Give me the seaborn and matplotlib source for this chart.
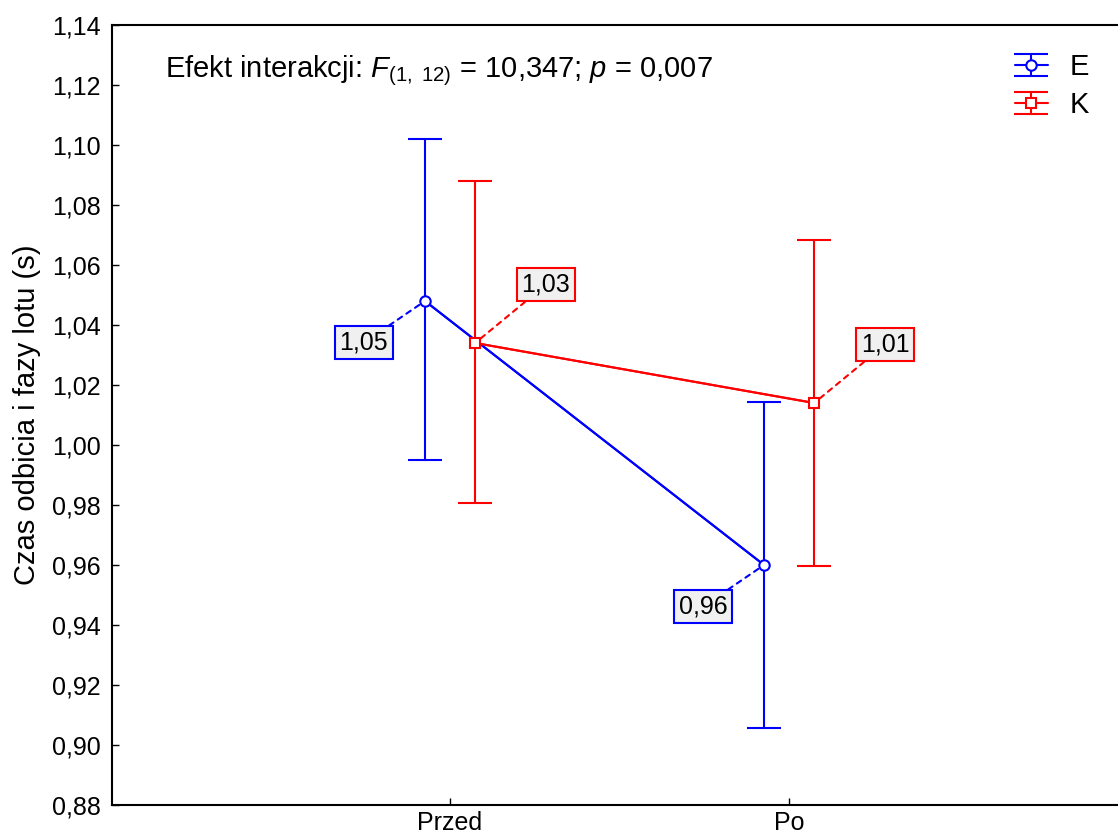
import matplotlib
matplotlib.use("Agg")
import matplotlib.pyplot as plt
from matplotlib.legend_handler import HandlerErrorbar
from matplotlib.container import ErrorbarContainer
import seaborn as sns
import pandas as pd
import numpy as np

# ---- data ----
categories = ["Przed", "Po"]
groups = ["E", "K"]
means_E = [1.048, 0.960]
lower_E = [0.995, 0.9055]
upper_E = [1.102, 1.0145]
means_K = [1.034, 1.014]
lower_K = [0.9805, 0.9597]
upper_K = [1.088, 1.0685]
value_labels_E = ["1,05", "0,96"]
value_labels_K = ["1,03", "1,01"]
y_ticks = [0.88, 0.90, 0.92, 0.94, 0.96, 0.98, 1.00, 1.02, 1.04, 1.06, 1.08, 1.10, 1.12, 1.14]

sns.set_style("white")
plt.rcParams['font.family'] = ['Liberation Sans', 'DejaVu Sans']
plt.rcParams['mathtext.fontset'] = 'custom'
plt.rcParams['mathtext.rm'] = 'Liberation Sans'
plt.rcParams['mathtext.it'] = 'Liberation Sans:italic'
for k in ('text.color', 'axes.labelcolor', 'xtick.color', 'ytick.color'):
    plt.rcParams[k] = 'black'

fig = plt.figure(figsize=(11.18, 8.4), dpi=100)
ax = fig.add_axes([0.1002, 0.0417, 0.8998, 0.9285])

colors = {"E": "#0000ff", "K": "#ff0000"}
markers = {"E": "o", "K": "s"}
msize = {"E": 7.5, "K": 6.5}
dodge = {"E": -0.074, "K": 0.074}
base_x = np.arange(len(categories))

rows = []
for g, m in (("E", means_E), ("K", means_K)):
    for i, c in enumerate(categories):
        rows.append({"group": g, "x": base_x[i] + dodge[g], "mean": m[i]})
df = pd.DataFrame(rows)

sns.lineplot(data=df, x="x", y="mean", hue="group", palette=colors,
             legend=False, ax=ax, linewidth=1.5, zorder=2)

data = {"E": (means_E, lower_E, upper_E), "K": (means_K, lower_K, upper_K)}
for g in groups:
    m, lo, up = data[g]
    m = np.array(m); lo = np.array(lo); up = np.array(up)
    x = base_x + dodge[g]
    ax.errorbar(x, m, yerr=[m - lo, up - m], fmt=markers[g], linestyle='-',
                color=colors[g], mfc='white', mec=colors[g], ms=msize[g],
                mew=1.5, lw=1.5, elinewidth=1.5, capsize=12, capthick=1.5,
                label=g, zorder=3)

# value labels
offsets = {"E": (-44, -30), "K": (51, 42)}
labels = {"E": value_labels_E, "K": value_labels_K}
for g in groups:
    m = data[g][0]
    for i in range(len(categories)):
        ax.annotate(labels[g][i], xy=(base_x[i] + dodge[g], m[i]),
                    xytext=offsets[g], textcoords='offset points',
                    ha='center', va='center', fontsize=18,
                    bbox=dict(boxstyle='square,pad=0.18', fc='#f0f0f0',
                              ec=colors[g], lw=1.5),
                    arrowprops=dict(arrowstyle='-', color=colors[g], lw=1.5,
                                    linestyle=(0, (2.5, 2.5)), shrinkA=0, shrinkB=5),
                    zorder=4)

ax.text(0.053, 0.942, r"Efekt interakcji: $F_{(1,\ 12)}$ = 10,347; $p$ = 0,007",
        transform=ax.transAxes, fontsize=21, va='center', ha='left')

ax.set_xlim(-0.997, 1.97)
ax.set_ylim(0.88, 1.14)
ax.set_xticks(base_x)
ax.set_xticklabels(categories)
ax.set_yticks(y_ticks)
ax.set_yticklabels([f"{t:.2f}".replace(".", ",") for t in y_ticks])
ax.tick_params(axis='both', direction='in', length=5, width=1, labelsize=18,
               left=True, bottom=True)
ax.tick_params(axis='x', pad=4)
ax.tick_params(axis='y', pad=8)
ax.set_xlabel("")
ax.set_ylabel("Czas odbicia i fazy lotu (s)", fontsize=21, labelpad=8)

for s in ("left", "bottom", "top"):
    ax.spines[s].set_visible(True)
    ax.spines[s].set_color("black")
    ax.spines[s].set_linewidth(1.5)
ax.spines["right"].set_visible(False)

leg = ax.legend(loc='upper right', bbox_to_anchor=(0.992, 0.99), frameon=False,
                fontsize=21, handlelength=1.15, handletextpad=0.75,
                labelspacing=0.35, borderaxespad=0.3,
                handler_map={ErrorbarContainer: HandlerErrorbar(xerr_size=0.5, yerr_size=0.38)})

fig.savefig("out.png", dpi=100)
